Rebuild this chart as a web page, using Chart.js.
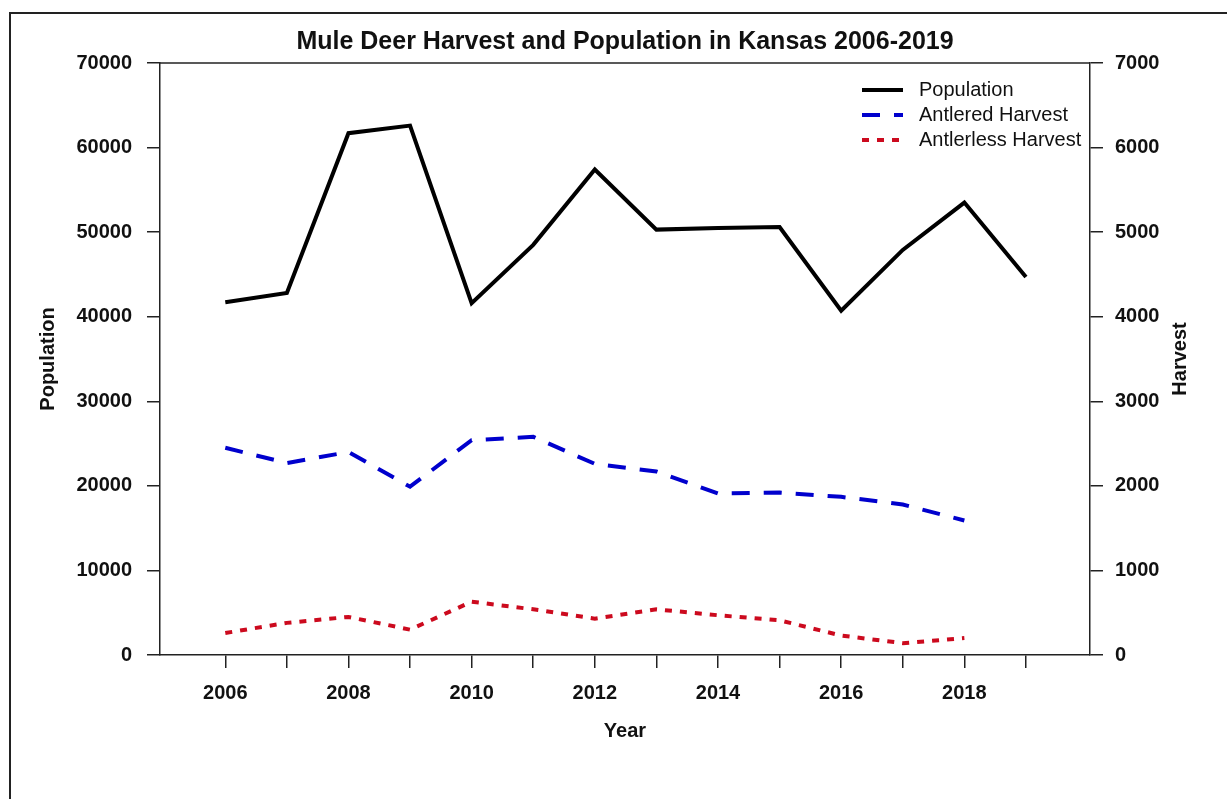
<!DOCTYPE html>
<html lang="en">
<head>
<meta charset="UTF-8">
<title>Mule Deer Harvest and Population in Kansas 2006-2019</title>
<script src="https://cdn.jsdelivr.net/npm/chart.js"></script>
<style>
  body { margin: 0; background: #fff; }
  #wrap { position: relative; width: 1227px; height: 799px; }
  #frame { position: absolute; left: 9px; top: 12px; right: 0; bottom: 0;
           border-left: 2px solid #222; border-top: 2px solid #222; pointer-events: none; }
</style>
</head>
<body>
<div id="wrap">
  <canvas id="deerChart" width="1227" height="799"></canvas>
  <div id="frame"></div>
</div>
<script>
// values
const years = [2006, 2007, 2008, 2009, 2010, 2011, 2012, 2013, 2014, 2015, 2016, 2017, 2018, 2019];
const population = [41700, 42800, 61700, 62600, 41600, 48500, 57400, 50300, 50500, 50600, 40700, 47900, 53500, 44700];
const antlered = [2450, 2270, 2400, 1990, 2540, 2580, 2260, 2170, 1910, 1920, 1870, 1780, 1590];
const antlerless = [260, 380, 450, 300, 630, 540, 430, 540, 470, 410, 230, 140, 200];

const yearTicks = years;
const yearLabels = [2006, 2008, 2010, 2012, 2014, 2016, 2018];
const popTicks = [0, 10000, 20000, 30000, 40000, 50000, 60000, 70000];
const harvestTicks = [0, 1000, 2000, 3000, 4000, 5000, 6000, 7000];

const FONT = '"Liberation Sans", Arial, sans-serif';
const INK = '#111';
Chart.defaults.font.family = FONT;
Chart.defaults.color = INK;

function pairs(vals) {
  return vals.map((v, i) => ({ x: years[i], y: v }));
}

const axisGrid = { drawOnChartArea: false, drawTicks: true, tickLength: 13, color: '#222', lineWidth: 1.5 };
const axisBorder = { display: true, color: '#222', width: 1.5 };
const boldFont = { size: 20, weight: 'bold' };

// top edge of the box, right axis title (reads bottom to top) and legend inside the plot
const extras = {
  id: 'extras',
  afterDraw(chart) {
    const { ctx, chartArea: a } = chart;
    ctx.save();
    ctx.strokeStyle = '#222';
    ctx.lineWidth = 1.5;
    ctx.beginPath();
    ctx.moveTo(a.left, a.top);
    ctx.lineTo(a.right, a.top);
    ctx.stroke();

    ctx.save();
    ctx.translate(a.right + 90, (a.top + a.bottom) / 2);
    ctx.rotate(-Math.PI / 2);
    ctx.font = 'bold 20px ' + FONT;
    ctx.fillStyle = INK;
    ctx.textAlign = 'center';
    ctx.textBaseline = 'middle';
    ctx.fillText('Harvest', 0, 0);
    ctx.restore();

    ctx.font = '20px ' + FONT;
    ctx.textAlign = 'left';
    ctx.textBaseline = 'middle';
    chart.data.datasets.forEach((ds, i) => {
      const y = a.top + 27 + i * 25;
      ctx.strokeStyle = ds.borderColor;
      ctx.lineWidth = ds.borderWidth;
      ctx.setLineDash(ds.borderDash || []);
      ctx.beginPath();
      ctx.moveTo(a.right - 228, y);
      ctx.lineTo(a.right - 187, y);
      ctx.stroke();
      ctx.setLineDash([]);
      ctx.fillStyle = INK;
      ctx.fillText(ds.label, a.right - 171, y);
    });
    ctx.restore();
  }
};

new Chart('deerChart', {
  type: 'line',
  data: {
    datasets: [{
      label: 'Population',
      data: pairs(population),
      yAxisID: 'y',
      borderColor: '#000',
      borderWidth: 4
    }, {
      label: 'Antlered Harvest',
      data: pairs(antlered),
      yAxisID: 'y1',
      borderColor: '#0000CD',
      borderWidth: 4,
      borderDash: [18, 14]
    }, {
      label: 'Antlerless Harvest',
      data: pairs(antlerless),
      yAxisID: 'y1',
      borderColor: '#CC0A1E',
      borderWidth: 4,
      borderDash: [7, 8]
    }]
  },
  options: {
    responsive: false,
    animation: false,
    elements: { point: { radius: 0 }, line: { tension: 0 } },
    layout: { padding: 0 },
    plugins: {
      legend: { display: false },
      tooltip: { enabled: false },
      title: {
        display: true,
        fullSize: false,
        text: 'Mule Deer Harvest and Population in Kansas 2006-2019',
        color: INK,
        font: { size: 25, weight: 'bold' },
        padding: { top: 27, bottom: 6 }
      }
    },
    scales: {
      x: {
        type: 'linear',
        min: 2004.94,
        max: 2020.04,
        afterBuildTicks: s => { s.ticks = yearTicks.map(v => ({ value: v })); },
        afterFit: s => { s.height = 144; },
        grid: axisGrid,
        border: axisBorder,
        ticks: {
          autoSkip: false,
          maxRotation: 0,
          padding: 13,
          font: boldFont,
          callback: v => yearLabels.includes(v) ? String(v) : ''
        },
        title: { display: true, text: 'Year', font: boldFont, padding: { top: 0, bottom: 56 } }
      },
      y: {
        position: 'left',
        min: 0,
        max: 70000,
        afterBuildTicks: s => { s.ticks = popTicks.map(v => ({ value: v })); },
        afterFit: s => { s.width = 160; },
        grid: axisGrid,
        border: axisBorder,
        ticks: { padding: 15, font: boldFont, callback: v => String(v) },
        title: { display: true, text: 'Population', font: boldFont, padding: { top: 36, bottom: 0 } }
      },
      y1: {
        position: 'right',
        min: 0,
        max: 7000,
        afterBuildTicks: s => { s.ticks = harvestTicks.map(v => ({ value: v })); },
        afterFit: s => { s.width = 137; },
        grid: axisGrid,
        border: axisBorder,
        ticks: { padding: 12, font: boldFont, callback: v => String(v) }
      }
    }
  },
  plugins: [extras]
});
</script>
</body>
</html>
